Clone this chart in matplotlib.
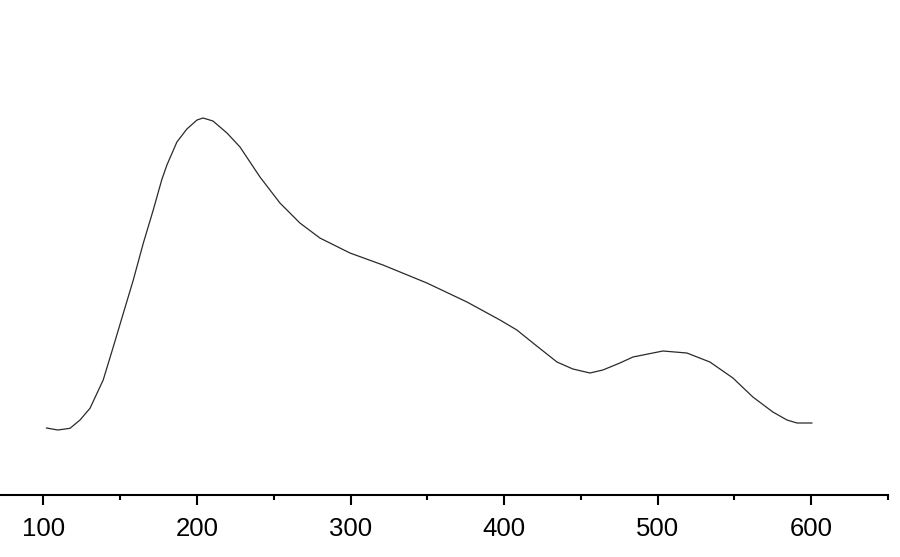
import numpy as np
import matplotlib.pyplot as plt

plt.rcParams['font.family'] = ['Liberation Sans', 'DejaVu Sans']

# 曲线数据 (横坐标, 强度 任意单位)
x_vals = [102, 109.4, 117.3, 123.8, 130.3, 138.9, 145.5, 152.0, 158.5, 165.0,
          171.5, 177.0, 180.4, 186.9, 193.4, 200.0, 203.9, 210.4, 219.5, 228.0,
          241.0, 254.0, 267.0, 280.0, 299.6, 321.1, 349.7, 375.8, 397.3, 408.3,
          418.8, 434.4, 444.8, 455.9, 464.3, 475.4, 483.9, 503.4, 519.0, 534.0,
          549.0, 562.0, 575.0, 584.2, 590.7, 600.4]
y_vals = [66.5, 64.5, 66.2, 74.5, 86.2, 114.5, 147.8, 181.2, 214.5, 251.2,
          284.5, 314.5, 329.5, 352.5, 365.5, 374.5, 376.5, 373.5, 361.5, 347.5,
          317.5, 291.5, 271.5, 256.5, 241.5, 229.5, 211.5, 192.5, 174.5, 164.5,
          151.5, 132.5, 125.5, 121.5, 124.5, 131.5, 137.5, 143.5, 141.5, 132.5,
          116.5, 97.5, 82.5, 74.5, 71.5, 71.5]

major_ticks = [100, 200, 300, 400, 500, 600]
minor_ticks = [150, 250, 350, 450, 550, 650]

fig = plt.figure(figsize=(9, 5.57), dpi=100)
ax = fig.add_axes([0, 0.1122, 0.9872, 0.8878])

ax.plot(x_vals, y_vals, color='#2a2a2a', linewidth=0.9,
        solid_joinstyle='round')

ax.set_xlim(71.7, 650.3)
ax.set_ylim(0, 494.5)

for side in ['top', 'right', 'left']:
    ax.spines[side].set_visible(False)
ax.spines['bottom'].set_linewidth(1.5)
ax.set_yticks([])
ax.set_xticks(major_ticks)
ax.set_xticks(minor_ticks, minor=True)
ax.tick_params(axis='x', which='major', direction='out', length=7.2,
               width=1.5, labelsize=18.5, pad=9)
ax.tick_params(axis='x', which='minor', direction='out', length=3.6, width=1.5)

fig.savefig('out.png', dpi=100)
